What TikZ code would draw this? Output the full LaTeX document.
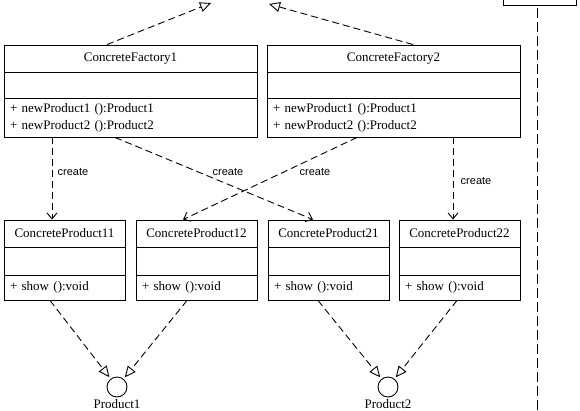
\documentclass[tikz,border=0pt]{standalone}
\usepackage{fontspec}
\setmainfont{Liberation Serif}
\newfontfamily\lblfont{Liberation Sans}
\usetikzlibrary{arrows.meta}
\begin{document}
\begin{tikzpicture}[x=1pt,y=-1pt,
  box/.style={draw, line width=0.9pt, inner sep=0pt, font=\fontsize{13}{17}\selectfont},
  ops/.style={box, align=left, inner xsep=6pt},
  lbl/.style={font=\lblfont\fontsize{11}{13}\selectfont, inner sep=0pt},
  dsh/.style={line width=0.9pt, dash pattern=on 7pt off 4pt},
  real/.style={dsh, -{Triangle[open, length=11pt, width=10pt]}},
  create/.style={dsh, -{Straight Barb[length=6pt, width=10pt]}},
]
\useasboundingbox (0,0) rectangle (580,410);
\clip (0,0) rectangle (580,410);
\fill[white] (0,0) rectangle (580,410);

% top right partial box and lifeline
\node[box, minimum width=73pt, minimum height=30pt] (tr) at (539.5,-10) {};
\coordinate (trend) at (537,412);
\draw[line width=0.9pt, dash pattern=on 10pt off 4pt] ([xshift=-2.5pt,yshift=-3pt]tr.south) -- (trend);

% factories
\node[box, minimum width=253pt, minimum height=27pt] (cf1) at (130.5,58.5) {ConcreteFactory1};
\node[box, minimum width=253pt, minimum height=26pt] (cf1m) at (130.5,85) {};
\node[ops, minimum width=253pt, minimum height=39pt, text width=241pt] (cf1o) at (130.5,117.5) {+ newProduct1 ():Product1\\+ newProduct2 ():Product2};

\node[box, minimum width=253pt, minimum height=27pt] (cf2) at (393.5,58.5) {ConcreteFactory2};
\node[box, minimum width=253pt, minimum height=26pt] (cf2m) at (393.5,85) {};
\node[ops, minimum width=253pt, minimum height=39pt, text width=241pt] (cf2o) at (393.5,117.5) {+ newProduct1 ():Product1\\+ newProduct2 ():Product2};

% products
\foreach \n/\x/\t in {cp11/64.5/ConcreteProduct11, cp12/196.5/ConcreteProduct12, cp21/328.5/ConcreteProduct21, cp22/459.5/ConcreteProduct22}{
  \node[box, minimum width=121pt, minimum height=27pt] (\n) at (\x,233.5) {\t};
  \node[box, minimum width=121pt, minimum height=28pt] (\n m) at (\x,261) {};
  \node[ops, minimum width=121pt, minimum height=25pt, text width=109pt] (\n o) at (\x,287.5) {+ show ():void};
}

% interfaces
\node[draw, line width=0.9pt, circle, minimum size=20pt, inner sep=0pt] (p1) at (117,387) {};
\node[draw, line width=0.9pt, circle, minimum size=20pt, inner sep=0pt] (p2) at (388,387) {};
\node[box, draw=none, anchor=base] (p1l) at (117,408.5) {Product1};
\node[box, draw=none, anchor=base] (p2l) at (388,408.5) {Product2};

% top realization arrows
\coordinate (t1) at (211,3);
\coordinate (t2) at (269,4);
\draw[real] ([xshift=-23.5pt]cf1.north) -- (t1);
\draw[real] ([xshift=19.5pt]cf2.north) -- (t2);

% create dependencies
\draw[create] ([xshift=-78.5pt]cf1o.south) -- ([xshift=-12.5pt]cp11.north);
\draw[create] ([xshift=-15.5pt]cf1o.south) -- ([xshift=-15.5pt]cp21.north);
\draw[create] ([xshift=-36.5pt]cf2o.south) -- ([xshift=-13.5pt]cp12.north);
\draw[create] ([xshift=59.5pt]cf2o.south) -- ([xshift=-6.5pt]cp22.north);
\node[lbl] (c1) at (73,172) {create};
\node[lbl] (c2) at (228,172) {create};
\node[lbl] (c3) at (315,172) {create};
\node[lbl] (c4) at (476,181) {create};

% realization to interfaces
\draw[real, shorten >=2pt] ([xshift=-14.5pt]cp11o.south) -- (p1);
\draw[real, shorten >=2pt] ([xshift=-9.5pt]cp12o.south) -- (p1);
\draw[real, shorten >=2pt] ([xshift=-10.5pt]cp21o.south) -- (p2);
\draw[real, shorten >=2pt] ([xshift=-2.5pt]cp22o.south) -- (p2);
\end{tikzpicture}
\end{document}
